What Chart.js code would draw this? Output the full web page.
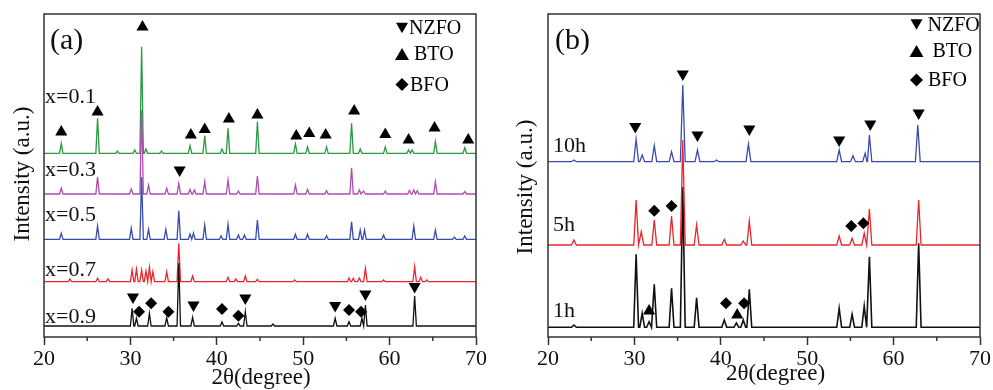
<!DOCTYPE html>
<html>
<head>
<meta charset="utf-8">
<script src="https://cdn.jsdelivr.net/npm/chart.js@4/dist/chart.umd.min.js"></script>
<style>
  html, body { margin: 0; padding: 0; background: #fff; }
  #wrap { position: relative; width: 993px; height: 390px; }
  .panel { position: absolute; top: 0; height: 390px; }
  #pa { left: 0; width: 497px; }
  #pb { left: 497px; width: 496px; }
</style>
</head>
<body>
<div id="wrap">
  <div class="panel" id="pa"><canvas id="chartA" width="497" height="390"></canvas></div>
  <div class="panel" id="pb"><canvas id="chartB" width="496" height="390"></canvas></div>
</div>
<script>
// x axis (2θ, degree)
const xMin = 20, xMax = 70;
const xTicks = [20, 30, 40, 50, 60, 70];
const xMinorTicks = [25, 35, 45, 55, 65];

// ---- panel (a): peaks as [2θ, intensity] (offset stacked, a.u.) ----
const aNames = ["x=0.1", "x=0.3", "x=0.5", "x=0.7", "x=0.9"];
const aBase = [183.7, 143, 97.7, 55.3, 11];
const aX01 = [[22.0,193.7],[26.2,218.7],[28.5,186],[30.5,187],[31.3,290.3],[31.8,188],[33.6,186],[36.9,191.3],
  [38.6,201.3],[40.6,188],[41.3,208.7],[44.7,215.3],[49.1,193],[50.5,190.3],[52.7,190.3],[55.6,213.7],
  [56.6,188],[59.5,190.3],[62.2,187],[62.6,187],[65.3,195.3],[68.7,189.3]];
const aX03 = [[22.0,148.7],[26.2,160.3],[30.1,148],[31.3,227],[32.1,152],[34.2,148.7],[35.6,153.7],[36.9,147.7],
  [37.4,147],[38.6,155.3],[41.3,157],[42.5,146],[44.7,161],[49.1,152],[50.5,147.7],[52.7,146.3],[55.6,169.3],
  [56.5,147],[57.0,146],[59.5,146],[62.3,146.5],[62.8,147],[63.2,146.3],[65.3,155.3],[68.7,145.3]];
const aX05 = [[22.0,103.7],[26.2,111],[30.1,108.7],[31.3,160],[32.1,107.7],[34.1,107.7],[35.6,126.3],[36.9,103],
  [37.3,104],[38.6,112],[40.5,101],[41.3,112.7],[42.5,102],[43.2,102],[44.7,117],[49.1,102.7],[50.5,102.7],
  [52.7,101.3],[55.6,115.3],[56.6,107],[57.1,107],[59.3,102],[62.8,111],[65.3,107],[67.5,100],[68.7,101]];
const aX07 = [[23.0,58],[26.2,58.7],[27.4,58],[30.2,67],[30.7,67.7],[31.3,67],[31.8,66],[32.2,69.7],[32.6,65.3],
  [34.2,65.3],[35.6,93.7],[37.2,61],[41.3,59.7],[42.2,58],[43.3,61],[44.7,57.7],[49.0,57],[55.3,59],[55.8,58.7],
  [56.5,59],[57.2,68.7],[59.3,57],[62.9,70.3],[63.6,59.7],[64.3,57]];
const aX09 = [[30.2,28.7],[30.7,18.7],[32.2,23.7],[34.2,19.3],[35.6,73.7],[37.2,19.7],[40.6,15],[42.5,13.7],
  [43.3,25.3],[46.5,13],[53.7,18.7],[55.3,15.3],[56.8,18.7],[57.2,32],[62.9,41]];
const aNZFO = [[35.7,167],[30.3,40],[37.3,32],[43.3,39],[53.7,31.5],[57.2,43],[62.9,50.5]];
const aBTO = [[22.0,205],[26.2,225],[31.4,310],[37.0,202],[38.6,207.5],[41.4,218],[44.7,222],[49.2,201],
  [50.7,203.5],[52.6,202],[55.9,226],[59.5,202.5],[62.2,197],[65.2,209],[69.1,197]];
const aBFO = [[31.0,25.3],[32.4,33.7],[34.4,25.3],[40.6,28],[42.5,21.3],[55.3,27],[56.7,25.3]];

// ---- panel (b) ----
const bNames = ["10h", "5h", "1h"];
const bBase = [175.3, 92, 9.7];
const b10h = [[23.0,177],[30.2,197.7],[30.9,182],[32.3,191.3],[34.3,185.3],[35.6,252],[37.3,187],[39.5,177],
  [43.2,193],[53.7,187],[55.3,181.3],[56.7,183.7],[57.2,202],[62.8,212]];
const b5h = [[23.0,97],[30.2,137],[30.8,105.3],[32.3,117],[34.3,121],[35.6,197],[37.2,112],[40.4,97.7],
  [42.6,96],[43.3,116],[53.7,101],[55.2,98.7],[56.6,103.7],[57.2,128],[62.9,137]];
const b1h = [[23.0,12],[30.2,82.7],[30.9,23.7],[31.7,15.3],[32.3,52.7],[34.3,48.7],[35.6,150],[37.2,39.3],
  [40.4,17],[41.8,14],[42.6,17],[43.3,47.7],[53.7,28.7],[55.2,22.7],[56.6,31],[57.2,80.3],[62.9,93.7]];
const bNZFO = [[30.1,210.5],[35.6,263],[37.3,202],[43.3,208],[53.7,197],[57.3,213],[62.9,224]];
const bBTO = [[31.7,26],[41.9,22]];
const bBFO = [[32.3,126.3],[34.3,131],[40.6,33.7],[42.7,33.7],[55.1,111],[56.5,113.7]];

const SERIF = '"Liberation Serif", "Times New Roman", serif';

function buildTrace(base, peaks, w) {
  // baseline – peak – baseline for every reflection
  const pts = [{x: xMin, y: base}];
  peaks.forEach(p => {
    pts.push({x: p[0] - w, y: base});
    pts.push({x: p[0], y: p[1]});
    pts.push({x: p[0] + w, y: base});
  });
  pts.push({x: xMax, y: base});
  return pts.sort((a, b) => a.x - b.x);
}

function toXY(arr) {
  return arr.map(p => ({x: p[0], y: p[1]}));
}

function traceSet(label, data, color, order, width) {
  return {label: label, data: data, borderColor: color, borderWidth: width, pointRadius: 0,
    pointHoverRadius: 0, fill: false, tension: 0, order: order};
}

function markerSet(label, data, style, rot, r) {
  return {label: label, data: toXY(data), showLine: false, pointStyle: style, rotation: rot,
    pointRadius: r, pointHoverRadius: r, backgroundColor: '#000', borderColor: '#000', borderWidth: 0, order: 0};
}

function drawTri(ctx, x, y, s, down) {
  const h = s * 0.87;
  ctx.beginPath();
  if (down) {
    ctx.moveTo(x - s / 2, y - h / 2); ctx.lineTo(x + s / 2, y - h / 2); ctx.lineTo(x, y + h / 2);
  } else {
    ctx.moveTo(x - s / 2, y + h / 2); ctx.lineTo(x + s / 2, y + h / 2); ctx.lineTo(x, y - h / 2);
  }
  ctx.closePath();
  ctx.fill();
}

function drawDiamond(ctx, x, y, r) {
  ctx.beginPath();
  ctx.moveTo(x, y - r); ctx.lineTo(x + r, y); ctx.lineTo(x, y + r); ctx.lineTo(x - r, y);
  ctx.closePath();
  ctx.fill();
}

// frame, minor ticks, titles, labels and the symbol key
function panelPlugin(cfg) {
  return {
    id: 'panel_' + cfg.tag,
    afterDraw(chart) {
      const ctx = chart.ctx;
      const a = chart.chartArea;
      const xs = chart.scales.x;
      ctx.save();
      ctx.strokeStyle = '#333';
      ctx.lineWidth = 1.5;
      ctx.strokeRect(a.left, a.top, a.right - a.left, a.bottom - a.top);
      ctx.beginPath();
      xMinorTicks.forEach(v => {
        const px = xs.getPixelForValue(v);
        ctx.moveTo(px, a.bottom);
        ctx.lineTo(px, a.bottom + 4);
      });
      ctx.stroke();

      ctx.fillStyle = '#111';
      ctx.textBaseline = 'middle';
      ctx.textAlign = 'left';
      cfg.texts.forEach(t => {
        ctx.font = t.size + 'px ' + SERIF;
        ctx.fillText(t.text, t.x, t.y);
      });

      ctx.font = '23px ' + SERIF;
      ctx.textAlign = 'center';
      ctx.fillText('2θ(degree)', cfg.xTitle[0], cfg.xTitle[1]);
      ctx.save();
      ctx.translate(cfg.yTitle[0], cfg.yTitle[1]);
      ctx.rotate(-Math.PI / 2);
      ctx.fillText('Intensity (a.u.)', 0, 0);
      ctx.restore();

      // key
      const k = cfg.key;
      ctx.fillStyle = '#000';
      drawTri(ctx, k.tri, k.y[0], 12, true);
      drawTri(ctx, k.tri, k.y[1], 14, false);
      drawDiamond(ctx, k.tri, k.y[2], 6.5);
      ctx.font = '20px ' + SERIF;
      ctx.textAlign = 'left';
      ctx.fillText('NZFO', k.tx[0], k.y[0] + 1);
      ctx.fillText('BTO', k.tx[1], k.y[1] + 1);
      ctx.fillText('BFO', k.tx[2], k.y[2] + 1);
      ctx.restore();
    }
  };
}

function makeOptions(yWidth, rightPad) {
  return {
    responsive: false,
    animation: false,
    layout: {padding: {top: 14, right: rightPad, left: 0, bottom: 0}},
    plugins: {legend: {display: false}, tooltip: {enabled: false}},
    scales: {
      x: {
        type: 'linear', min: xMin, max: xMax,
        afterBuildTicks: s => { s.ticks = xTicks.map(v => ({value: v})); },
        ticks: {font: {family: SERIF, size: 22}, color: '#111', padding: 1, maxRotation: 0, autoSkip: false},
        grid: {display: true, drawOnChartArea: false, drawTicks: true, tickLength: 8, tickWidth: 1.5, tickColor: '#333'},
        border: {display: false},
        afterFit: s => { s.height = 53; }
      },
      y: {
        min: 0, max: 323,
        ticks: {display: false},
        grid: {display: false},
        border: {display: false},
        afterFit: s => { s.width = yWidth; }
      }
    }
  };
}

const aColors = ['#2a9a40', '#b04cb4', '#3b4bad', '#e8262b', '#111111'];
const aPeaks = [aX01, aX03, aX05, aX07, aX09];
const aSets = aPeaks.map((pk, i) => traceSet(aNames[i], buildTrace(aBase[i], pk, 0.2), aColors[i], 5 - i, 1.3));
aSets.push(markerSet('NZFO', aNZFO, 'triangle', 180, 7));
aSets.push(markerSet('BTO', aBTO, 'triangle', 0, 7));
aSets.push(markerSet('BFO', aBFO, 'rectRot', 0, 6));

new Chart(document.getElementById('chartA'), {
  type: 'line',
  data: {datasets: aSets},
  options: makeOptions(44, 21),
  plugins: [panelPlugin({
    tag: 'a',
    texts: [
      {text: '(a)', x: 50, y: 41, size: 30},
      {text: aNames[0], x: 45, y: 97, size: 22},
      {text: aNames[1], x: 45, y: 170, size: 22},
      {text: aNames[2], x: 45, y: 215, size: 22},
      {text: aNames[3], x: 45, y: 270, size: 22},
      {text: aNames[4], x: 45, y: 317, size: 22}
    ],
    xTitle: [261, 378],
    yTitle: [22.5, 174],
    key: {tri: 402, y: [28, 54, 84.5], tx: [409, 414, 410]}
  })]
});

const bColors = ['#3b4bad', '#e8262b', '#111111'];
const bPeaks = [b10h, b5h, b1h];
const bOrder = [2, 1, 3];
const bWidths = [1.3, 1.3, 1.6];
const bSets = bPeaks.map((pk, i) => traceSet(bNames[i], buildTrace(bBase[i], pk, 0.28), bColors[i], bOrder[i], bWidths[i]));
bSets.push(markerSet('NZFO', bNZFO, 'triangle', 180, 7));
bSets.push(markerSet('BTO', bBTO, 'triangle', 0, 7));
bSets.push(markerSet('BFO', bBFO, 'rectRot', 0, 6));

new Chart(document.getElementById('chartB'), {
  type: 'line',
  data: {datasets: bSets},
  options: makeOptions(51, 13),
  plugins: [panelPlugin({
    tag: 'b',
    texts: [
      {text: '(b)', x: 58, y: 41.5, size: 30},
      {text: bNames[0], x: 56, y: 146, size: 22},
      {text: bNames[1], x: 56, y: 225, size: 22},
      {text: bNames[2], x: 56, y: 311, size: 22}
    ],
    xTitle: [278.5, 374],
    yTitle: [28.5, 187],
    key: {tri: 419.5, y: [24.5, 51, 80], tx: [430.5, 435.5, 431]}
  })]
});
</script>
</body>
</html>
